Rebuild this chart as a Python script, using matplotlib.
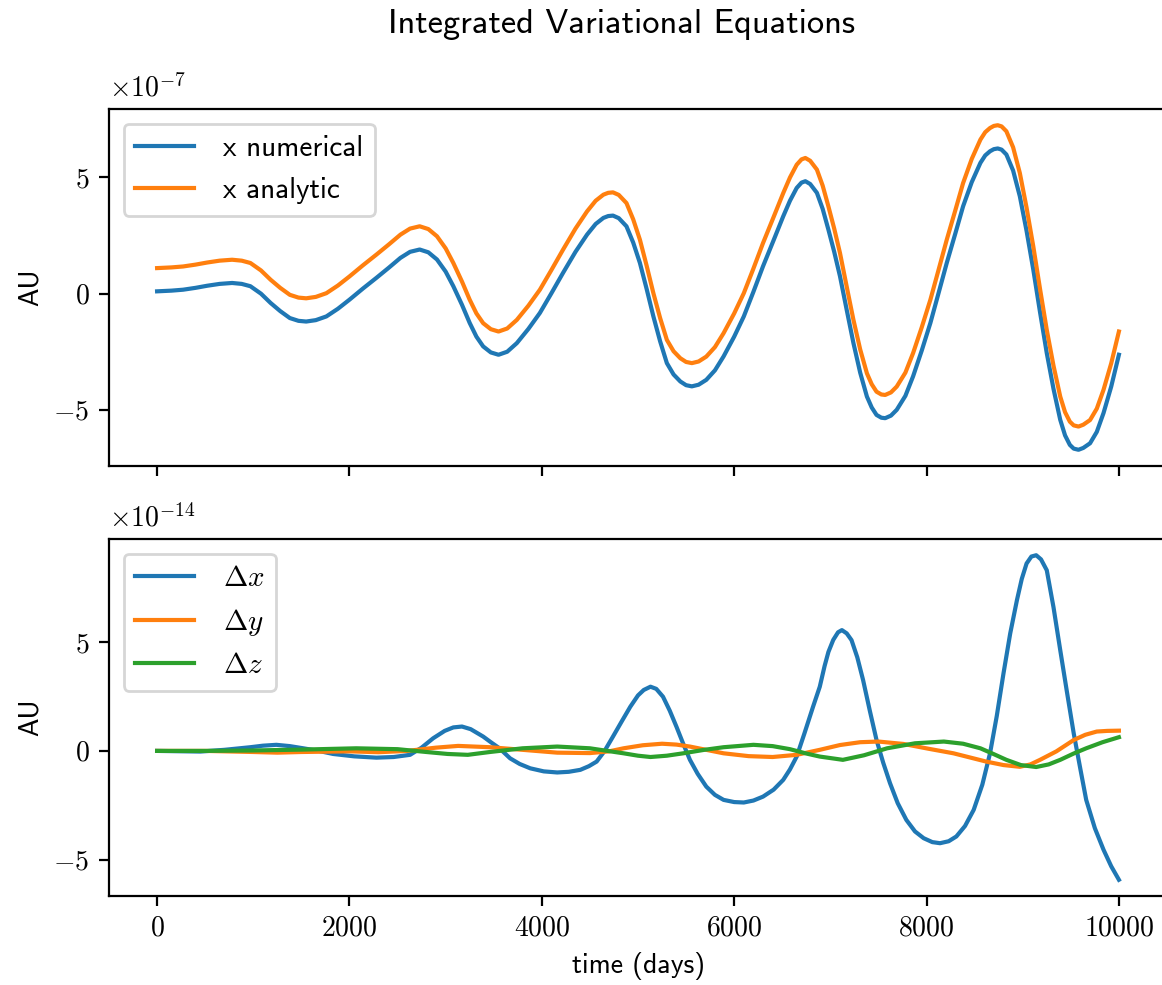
import numpy as np
import matplotlib
matplotlib.use("Agg")
import matplotlib.pyplot as plt
from matplotlib.ticker import FuncFormatter, MultipleLocator

plt.rcParams['font.family'] = ['cmss10', 'DejaVu Sans']
plt.rcParams['mathtext.fontset'] = 'cm'
plt.rcParams['axes.unicode_minus'] = False

# top panel, values in units of 1e-7 AU
t_top = [0, 150, 270, 400, 520, 650, 780, 880, 970, 1080, 1180, 1280, 1380, 1470, 1550,
         1650, 1760, 1880, 2000, 2140, 2280, 2410, 2530, 2630, 2730, 2820, 2910, 3000,
         3080, 3170, 3250, 3320, 3390, 3470, 3550, 3640, 3740, 3860, 3980, 4100, 4220,
         4350, 4470, 4560, 4640, 4690, 4740, 4800, 4880, 4950, 5020, 5090, 5160, 5230,
         5300, 5370, 5440, 5500, 5560, 5630, 5710, 5800, 5890, 6000, 6100, 6200, 6300,
         6410, 6510, 6580, 6650, 6700, 6740, 6790, 6860, 6920, 6980, 7040, 7100, 7170,
         7240, 7310, 7380, 7430, 7480, 7530, 7570, 7630, 7690, 7780, 7860, 7950, 8040,
         8120, 8210, 8300, 8380, 8470, 8560, 8610, 8660, 8700, 8740, 8780, 8830, 8900,
         8970, 9040, 9110, 9180, 9250, 9320, 9390, 9440, 9490, 9530, 9580, 9630, 9700,
         9770, 9840, 9920, 10000]
x_numerical = [0.10, 0.13, 0.17, 0.25, 0.34, 0.42, 0.46, 0.42, 0.32, 0.00, -0.40, -0.75,
               -1.05, -1.17, -1.20, -1.14, -0.98, -0.65, -0.26, 0.22, 0.68, 1.12, 1.54,
               1.80, 1.90, 1.78, 1.47, 0.95, 0.32, -0.48, -1.26, -1.85, -2.27, -2.53,
               -2.63, -2.50, -2.13, -1.52, -0.83, 0.02, 0.89, 1.80, 2.54, 3.00, 3.26,
               3.34, 3.36, 3.25, 2.90, 2.20, 1.32, 0.20, -0.98, -2.05, -2.99, -3.48,
               -3.78, -3.94, -3.99, -3.92, -3.71, -3.30, -2.70, -1.85, -0.98, 0.08, 1.18,
               2.30, 3.33, 4.00, 4.55, 4.78, 4.84, 4.72, 4.34, 3.65, 2.75, 1.80, 0.75,
               -0.70, -2.13, -3.40, -4.43, -4.90, -5.22, -5.34, -5.36, -5.25, -5.00,
               -4.40, -3.56, -2.45, -1.26, -0.05, 1.32, 2.60, 3.76, 4.80, 5.63, 5.95,
               6.13, 6.22, 6.25, 6.20, 5.99, 5.30, 4.19, 2.70, 1.03, -0.80, -2.56, -4.10,
               -5.43, -6.10, -6.51, -6.67, -6.72, -6.64, -6.44, -5.95, -5.14, -4.00, -2.63]
x_analytic = [1.10, 1.13, 1.17, 1.25, 1.34, 1.42, 1.46, 1.42, 1.32, 1.00, 0.60, 0.25,
              -0.05, -0.17, -0.20, -0.14, 0.02, 0.35, 0.74, 1.22, 1.68, 2.12, 2.54,
              2.80, 2.90, 2.78, 2.47, 1.95, 1.32, 0.52, -0.26, -0.85, -1.27, -1.53,
              -1.63, -1.50, -1.13, -0.52, 0.17, 1.02, 1.89, 2.80, 3.54, 4.00, 4.26,
              4.34, 4.36, 4.25, 3.90, 3.20, 2.32, 1.20, 0.02, -1.05, -1.99, -2.48,
              -2.78, -2.94, -2.99, -2.92, -2.71, -2.30, -1.70, -0.85, 0.02, 1.08, 2.18,
              3.30, 4.33, 5.00, 5.55, 5.78, 5.84, 5.72, 5.34, 4.65, 3.75, 2.80, 1.75,
              0.30, -1.13, -2.40, -3.43, -3.90, -4.22, -4.34, -4.36, -4.25, -4.00,
              -3.40, -2.56, -1.45, -0.26, 0.95, 2.32, 3.60, 4.76, 5.80, 6.63, 6.95,
              7.13, 7.22, 7.25, 7.20, 6.99, 6.30, 5.19, 3.70, 2.03, 0.20, -1.56, -3.10,
              -4.43, -5.10, -5.51, -5.67, -5.72, -5.64, -5.44, -4.95, -4.14, -3.00, -1.63]

# bottom panel, values in units of 1e-14 AU
t_dx = [0, 450, 700, 970, 1100, 1240, 1380, 1520, 1680, 1830, 2050, 2280, 2460, 2630,
        2750, 2870, 2990, 3080, 3170, 3260, 3390, 3470, 3560, 3670, 3770, 3880, 4020,
        4160, 4280, 4400, 4490, 4570, 4650, 4740, 4830, 4920, 5000, 5060, 5130, 5190,
        5260, 5330, 5400, 5470, 5540, 5620, 5710, 5800, 5890, 6000, 6100, 6200, 6300,
        6410, 6510, 6580, 6650, 6730, 6820, 6890, 6940, 6980, 7030, 7080, 7120, 7170,
        7220, 7280, 7340, 7410, 7480, 7550, 7620, 7700, 7790, 7880, 7970, 8060, 8140,
        8230, 8310, 8400, 8490, 8580, 8660, 8730, 8800, 8870, 8940, 8990, 9040, 9090,
        9140, 9190, 9250, 9320, 9390, 9460, 9530, 9600, 9660, 9750, 9840, 9920, 10000]
dx = [0.0, -0.03, 0.05, 0.17, 0.24, 0.28, 0.22, 0.12, 0.0, -0.14, -0.25, -0.31, -0.28,
      -0.18, 0.15, 0.58, 0.92, 1.08, 1.12, 1.00, 0.66, 0.40, 0.12, -0.34, -0.60, -0.80,
      -0.94, -0.99, -0.96, -0.87, -0.70, -0.49, -0.02, 0.66, 1.35, 2.03, 2.55, 2.80,
      2.95, 2.85, 2.49, 1.85, 1.11, 0.33, -0.41, -1.05, -1.64, -2.02, -2.25, -2.35,
      -2.37, -2.28, -2.10, -1.78, -1.33, -0.85, -0.26, 0.80, 2.03, 2.95, 3.90, 4.55,
      5.10, 5.45, 5.55, 5.40, 5.09, 4.30, 3.26, 1.85, 0.50, -0.55, -1.48, -2.40, -3.17,
      -3.70, -4.01, -4.19, -4.24, -4.15, -3.93, -3.45, -2.71, -1.55, -0.11, 1.60, 3.56,
      5.40, 6.93, 7.90, 8.61, 8.93, 8.99, 8.80, 8.30, 6.60, 4.63, 2.70, 0.81, -0.85,
      -2.25, -3.55, -4.54, -5.30, -5.92]

t_dy = [0, 500, 1000, 1250, 1500, 2000, 2300, 2600, 2900, 3130, 3460, 3800, 4160, 4500,
        4700, 4850, 5050, 5250, 5400, 5540, 5720, 5890, 6150, 6400, 6650, 6890, 7100,
        7310, 7500, 7760, 8020, 8280, 8450, 8620, 8800, 8970, 9080, 9180, 9350, 9530,
        9650, 9770, 9880, 10000]
dy = [0.0, 0.0, -0.05, -0.08, -0.05, -0.02, -0.06, 0.0, 0.15, 0.23, 0.17, 0.05, -0.08,
      -0.10, -0.02, 0.12, 0.26, 0.33, 0.29, 0.20, 0.04, -0.11, -0.24, -0.28, -0.18,
      0.05, 0.27, 0.40, 0.43, 0.32, 0.10, -0.11, -0.30, -0.49, -0.65, -0.73, -0.62,
      -0.41, -0.02, 0.50, 0.74, 0.89, 0.92, 0.93]

t_dz = [0, 500, 1000, 1500, 2070, 2500, 2800, 3020, 3230, 3460, 3800, 4160, 4500, 4850,
        5000, 5130, 5300, 5470, 5690, 5890, 6200, 6400, 6580, 6750, 6890, 7130, 7350,
        7590, 7880, 8180, 8380, 8560, 8700, 8830, 8980, 9140, 9270, 9390, 9530, 9660,
        9830, 10000]
dz = [0.0, 0.0, 0.02, 0.06, 0.12, 0.08, -0.05, -0.14, -0.18, -0.05, 0.12, 0.20, 0.12,
      -0.11, -0.22, -0.28, -0.22, -0.11, 0.05, 0.17, 0.28, 0.22, 0.08, -0.12, -0.26,
      -0.41, -0.20, 0.12, 0.35, 0.43, 0.33, 0.12, -0.15, -0.41, -0.65, -0.74, -0.62,
      -0.41, -0.12, 0.12, 0.40, 0.63]

fig = plt.figure(figsize=(5.81, 4.925), dpi=200)
ax1 = fig.add_axes([109 / 1162, 1 - 466 / 985, 1058 / 1162, 357 / 985])
ax2 = fig.add_axes([109 / 1162, 1 - 896 / 985, 1058 / 1162, 357 / 985], sharex=ax1)

ax1.plot(t_top, x_numerical, label='x numerical')
ax1.plot(t_top, x_analytic, label='x analytic')
ax1.legend(loc='upper left', fontsize=10.5, handletextpad=1.0)
ax1.set_ylabel('AU')
ax1.tick_params(labelbottom=False)
ax1.text(0, 1.02, r'$\times10^{-7}$', transform=ax1.transAxes, ha='left', va='bottom')

ax2.plot(t_dx, dx, label=r'$\Delta x$')
ax2.plot(t_dy, dy, label=r'$\Delta y$')
ax2.plot(t_dz, dz, label=r'$\Delta z$')
ax2.legend(loc='upper left', fontsize=10.5, handletextpad=1.0)
ax2.set_ylabel('AU')
ax2.set_xlabel('time (days)')
ax2.text(0, 1.02, r'$\times10^{-14}$', transform=ax2.transAxes, ha='left', va='bottom')

fmt = FuncFormatter(lambda v, p: '$%g$' % v)
for ax in (ax1, ax2):
    ax.yaxis.set_major_locator(MultipleLocator(5))
    ax.yaxis.set_major_formatter(fmt)
    ax.xaxis.set_major_locator(MultipleLocator(2000))
    ax.xaxis.set_major_formatter(fmt)

fig.suptitle('Integrated Variational Equations', x=621 / 1162, y=1 - 24 / 985,
             va='center', fontsize=12.4)

fig.savefig('out.png', dpi=200)
